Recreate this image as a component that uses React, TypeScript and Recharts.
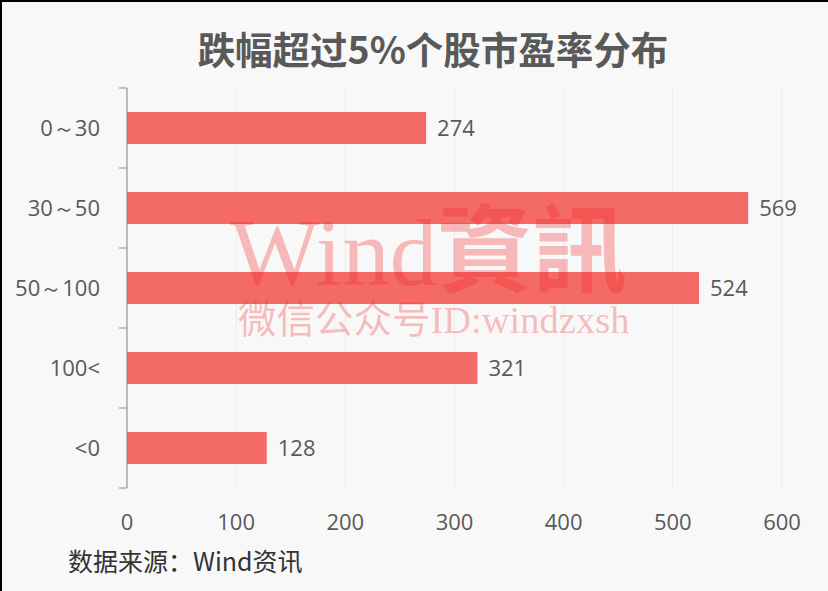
import { Bar, BarChart, CartesianGrid, LabelList, XAxis, YAxis } from 'recharts';

const categories = ['0～30', '30～50', '50～100', '100<', '<0'];
const counts = [274, 569, 524, 321, 128];
const xTicks = [0, 100, 200, 300, 400, 500, 600];

const data = categories.map((name, i) => ({ name, count: counts[i] }));

const textColor = '#595959';
const latinFont = "'Open Sans', 'Noto Sans', sans-serif";
const halfBand = 40;

function CategoryTick(props: any) {
  const { x, y, payload, index } = props;
  const axisX = x + 27;
  return (
    <g>
      <text x={x} y={y} dy="0.35em" textAnchor="end" fontSize={22} fill={textColor} fontFamily={latinFont}>
        {payload.value}
      </text>
      <line x1={axisX - 8} x2={axisX} y1={y + halfBand} y2={y + halfBand} stroke="#888" />
      {index === 0 && <line x1={axisX - 8} x2={axisX} y1={y - halfBand} y2={y - halfBand} stroke="#888" />}
    </g>
  );
}

export default function App() {
  return (
    <div
      style={{
        position: 'absolute',
        left: 0,
        top: 0,
        width: 828,
        height: 591,
        background: '#f8f8f8',
        boxSizing: 'border-box',
        borderTop: '2px solid #000',
        borderLeft: '2px solid #000',
        fontFamily: "'Noto Sans CJK SC', sans-serif",
        overflow: 'hidden',
      }}
    >
      <div
        style={{
          position: 'absolute',
          top: 21,
          left: 17,
          width: 828,
          textAlign: 'center',
          fontSize: 37.5,
          fontWeight: 700,
          color: textColor,
          lineHeight: '50px',
        }}
      >
        跌幅超过5%个股市盈率分布
      </div>
      <div style={{ position: 'absolute', left: -2, top: -2 }}>
        <BarChart
          width={828}
          height={591}
          data={data}
          layout="vertical"
          margin={{ top: 88, right: 46, bottom: 73, left: 27 }}
        >
          <CartesianGrid horizontal={false} stroke="#ebebeb" />
          <XAxis
            type="number"
            domain={[0, 600]}
            ticks={xTicks}
            axisLine={false}
            tickLine={false}
            tickMargin={20}
            height={30}
            tick={{ fontSize: 22, fill: textColor, fontFamily: latinFont }}
          />
          <YAxis
            type="category"
            dataKey="name"
            width={100}
            axisLine={{ stroke: '#888' }}
            tickLine={false}
            tickSize={8}
            tickMargin={19}
            tick={<CategoryTick />}
          />
          <Bar dataKey="count" fill="#f46a67" barSize={32} isAnimationActive={false}>
            <LabelList dataKey="count" position="right" offset={11} fill={textColor} fontSize={22} fontFamily={latinFont} />
          </Bar>
        </BarChart>
      </div>
      <div
        style={{
          position: 'absolute',
          left: 228,
          top: 196,
          fontSize: 95,
          lineHeight: '110px',
          color: 'rgba(241, 35, 35, 0.3)',
          fontFamily: "'Liberation Serif', 'Noto Sans CJK TC', serif",
          whiteSpace: 'nowrap',
          pointerEvents: 'none',
        }}
      >
        Wind<span style={{ fontWeight: 700 }}>資訊</span>
      </div>
      <div
        style={{
          position: 'absolute',
          left: 236,
          top: 296,
          fontSize: 38.5,
          lineHeight: '44px',
          color: 'rgba(241, 35, 35, 0.3)',
          fontFamily: "'Liberation Serif', 'Noto Sans CJK SC', serif",
          whiteSpace: 'nowrap',
          pointerEvents: 'none',
        }}
      >
        微信公众号ID:windzxsh
      </div>
      <div
        style={{
          position: 'absolute',
          left: 66,
          top: 541,
          fontSize: 25,
          lineHeight: '34px',
          color: '#333',
          whiteSpace: 'nowrap',
        }}
      >
        数据来源：Wind资讯
      </div>
    </div>
  );
}
